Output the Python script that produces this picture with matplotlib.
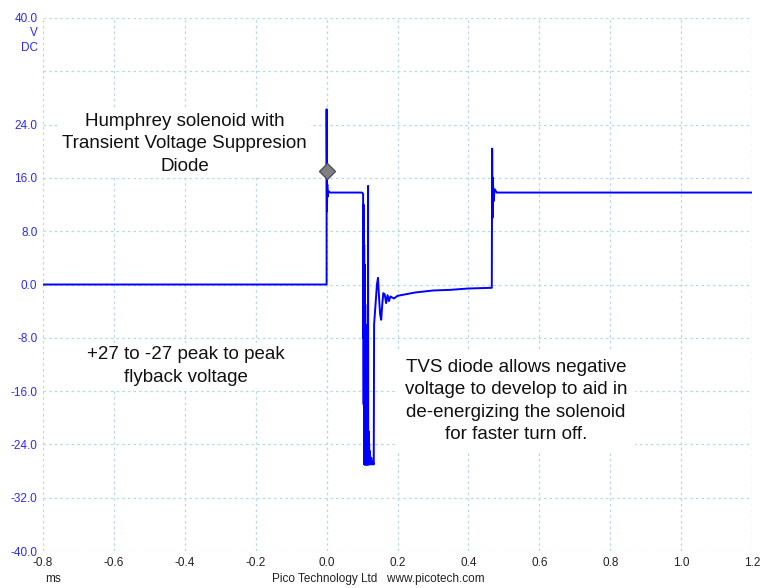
import matplotlib
matplotlib.use("Agg")
import matplotlib.pyplot as plt

plt.rcParams['font.family'] = ['Liberation Sans', 'DejaVu Sans']

# Waveform breakpoints (time in ms, voltage in V)
time_ms = [-0.8, -0.6, -0.4, -0.2, 0.0, 0.0, 0.001, 0.002, 0.003, 0.005, 0.01,
           0.10, 0.103, 0.1035, 0.104, 0.1045, 0.105, 0.1055, 0.106, 0.1065,
           0.107, 0.1075, 0.108, 0.1085, 0.109, 0.1095, 0.110, 0.1105, 0.111,
           0.1115, 0.112, 0.1125, 0.113, 0.1135, 0.114, 0.1145, 0.115, 0.1155,
           0.116, 0.1165, 0.117, 0.1175, 0.118, 0.119, 0.120, 0.121, 0.122,
           0.124, 0.126, 0.128, 0.130, 0.131, 0.132, 0.133, 0.134, 0.138,
           0.142, 0.145, 0.148, 0.151, 0.154, 0.157, 0.160, 0.164, 0.168,
           0.172, 0.176, 0.180, 0.19, 0.20, 0.25, 0.30, 0.35, 0.40, 0.464,
           0.466, 0.467, 0.468, 0.469, 0.471, 0.474, 0.48, 0.8, 1.2]
volts = [0.0, 0.0, 0.0, 0.0, 0.0, 26.3, 11.0, 15.0, 13.2, 14.0, 13.8,
         13.8, 13.6, -8.0, 12.0, -18.0, 9.0, -24.0, 6.0, -27.0,
         3.0, -27.0, 0.0, -27.0, -3.0, -27.0, -6.0, -27.0, -9.0,
         -27.0, -12.0, -27.0, -14.0, -27.0, -16.0, -27.0, -18.0, -27.0,
         -20.0, -27.0, 14.8, -27.0, -22.0, -27.0, -24.0, -27.0, -25.0,
         -27.0, -26.0, -27.0, -26.5, -27.0, -26.8, -27.0, -6.0, -3.0,
         0.0, 1.0, -2.0, -4.5, -5.3, -3.0, -1.3, -1.5, -2.8,
         -1.6, -2.5, -1.8, -2.1, -1.7, -1.2, -0.9, -0.8, -0.6, -0.5,
         -0.5, 20.4, 10.0, 16.0, 12.5, 14.3, 13.8, 13.8, 13.8]

marker_t = [0.0]
marker_v = [17.0]

x_ticks = [-0.8, -0.6, -0.4, -0.2, 0.0, 0.2, 0.4, 0.6, 0.8, 1.0, 1.2]
y_ticks = [40, 32, 24, 16, 8, 0, -8, -16, -24, -32, -40]
y_labels = ['40.0', '', '24.0', '16.0', '8.0', '0.0', '-8.0', '-16.0', '-24.0', '-32.0', '-40.0']

fig = plt.figure(figsize=(7.7, 5.88), dpi=100)
ax = fig.add_axes([43/770, 1-551/588, (752-43)/770, (551-18)/588])

ax.plot(time_ms, volts, color='#0000ff', lw=1.4, zorder=3)
ax.plot(marker_t, marker_v, marker='D', ms=8, color='#808080',
        markeredgecolor='#505060', zorder=4, ls='none')

ax.set_xlim(-0.8, 1.2)
ax.set_ylim(-40, 40)
ax.set_xticks(x_ticks)
ax.set_xticklabels(['%.1f' % v for v in x_ticks])
ax.set_yticks(y_ticks)
ax.set_yticklabels(y_labels)
ax.tick_params(length=0, pad=4)
ax.tick_params(axis='y', colors='#2a2aff', labelsize=8.5)
ax.tick_params(axis='x', colors='#222222', labelsize=8.5)
ax.grid(True, color='#b3d9e6', ls=(0, (2, 2.5)), lw=0.9)
for s in ax.spines.values():
    s.set_visible(False)

fig.text(38/770, 1-33/588, 'V', color='#2a2aff', ha='right', va='center', fontsize=8.5)
fig.text(38/770, 1-48/588, 'DC', color='#2a2aff', ha='right', va='center', fontsize=8.5)
fig.text(53/770, 1-579/588, 'ms', color='#222222', ha='center', va='center', fontsize=8.5)
fig.text(378/770, 1-579/588, 'Pico Technology Ltd   www.picotech.com', color='#222222',
         ha='center', va='center', fontsize=8.5)

box = dict(facecolor='white', edgecolor='none', pad=2)
ax.text(-0.4, 21.1, 'Humphrey solenoid with\nTransient Voltage Suppresion\nDiode',
        ha='center', va='center', fontsize=13.5, color='#111111', linespacing=1.42,
        bbox=box, zorder=5)
ax.text(-0.398, -12.2, '+27 to -27 peak to peak\nflyback voltage',
        ha='center', va='center', fontsize=13.5, color='#111111', linespacing=1.42,
        bbox=box, zorder=5)
ax.text(0.534, -17.5, 'TVS diode allows negative\nvoltage to develop to aid in\nde-energizing the solenoid\nfor faster turn off.',
        ha='center', va='center', fontsize=13.5, color='#111111', linespacing=1.42,
        bbox=dict(facecolor='white', edgecolor='none', pad=6), zorder=5)

fig.savefig('out.png', dpi=100)
